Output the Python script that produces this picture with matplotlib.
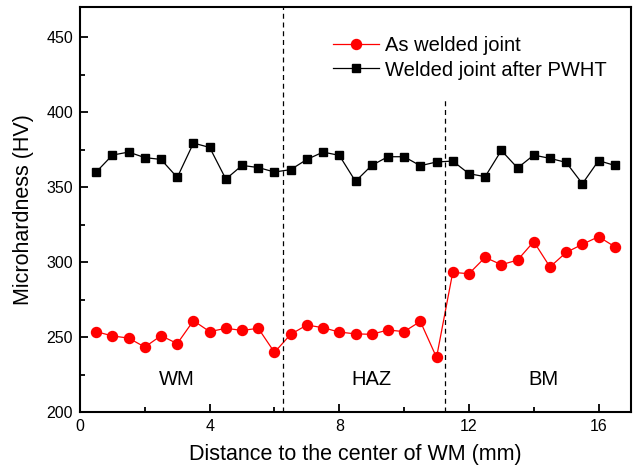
import matplotlib
matplotlib.use("Agg")
import matplotlib.pyplot as plt
from matplotlib.ticker import MultipleLocator

plt.rcParams['font.family'] = ['Liberation Sans', 'DejaVu Sans']

# distance from the weld centre (mm)
dist = [0.5 * (i + 1) for i in range(33)]

as_welded = [253.6, 250.7, 249.3, 243.3, 250.9, 245.6, 260.9, 253.6, 255.8, 254.4,
             255.8, 239.8, 251.8, 258.0, 256.2, 253.3, 252.1, 251.8, 254.7, 253.6,
             260.4, 236.4, 293.1, 292.2, 303.1, 298.2, 301.3, 313.6, 296.7, 306.4,
             311.8, 316.9, 310.2]

after_pwht = [360.0, 371.3, 373.3, 369.6, 368.4, 356.4, 379.3, 376.4, 355.3, 364.4,
              363.0, 360.0, 361.6, 368.4, 373.3, 371.1, 353.8, 364.4, 370.2, 370.2,
              364.2, 366.7, 367.3, 358.9, 356.9, 374.4, 362.7, 371.3, 369.1, 366.4,
              352.2, 367.6, 364.4]

zone_names = ['WM', 'HAZ', 'BM']
zone_x = [3.0, 9.0, 14.3]
bounds = [6.25, 11.25]

fig = plt.figure(figsize=(6.35, 4.69), dpi=100)
ax = fig.add_axes([0.126, 0.1215, 0.8677, 0.8635])

ax.plot(dist, as_welded, '-o', color='red', lw=0.9, ms=7.2, label='As welded joint')
ax.plot(dist, after_pwht, '-s', color='black', lw=0.9, ms=5.8,
        label='Welded joint after PWHT')

ax.axvline(bounds[0], color='black', ls='--', lw=0.9, dashes=(4, 3))
ax.plot([bounds[1], bounds[1]], [200, 410], color='black', ls='--', lw=0.9, dashes=(4, 3))

for name, xp in zip(zone_names, zone_x):
    ax.text(xp, 222, name, ha='center', va='center', fontsize=14.5)

ax.set_xlim(0, 17)
ax.set_ylim(200, 470)
ax.xaxis.set_major_locator(MultipleLocator(4))
ax.xaxis.set_minor_locator(MultipleLocator(2))
ax.yaxis.set_major_locator(MultipleLocator(50))
ax.yaxis.set_minor_locator(MultipleLocator(25))
ax.tick_params(which='both', direction='in', labelsize=11.5, width=1.3, pad=5)
ax.tick_params(which='major', length=6)
ax.tick_params(which='minor', length=3.5)
for s in ax.spines.values():
    s.set_linewidth(1.5)

ax.set_xlabel('Distance to the center of WM (mm)', fontsize=15.5, labelpad=7)
ax.set_ylabel('Microhardness (HV)', fontsize=15.5, labelpad=9)

ax.legend(loc='upper left', bbox_to_anchor=(0.427, 0.972), frameon=False, fontsize=14.5,
          handlelength=2.25, handletextpad=0.3, labelspacing=0.25)

fig.savefig('out.png', dpi=100)
